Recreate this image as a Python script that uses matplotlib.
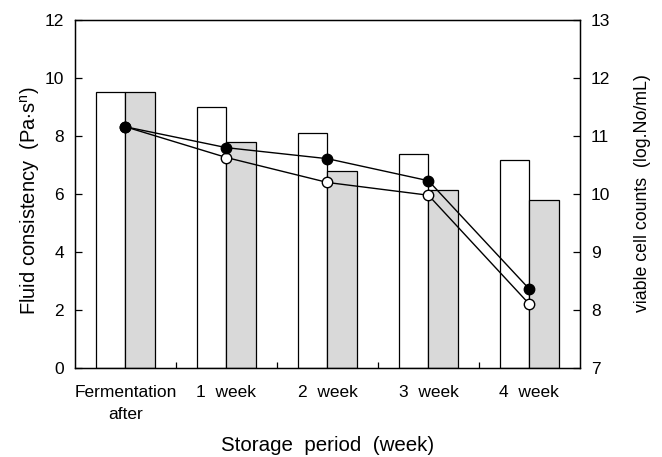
import matplotlib
matplotlib.use("Agg")
import matplotlib.pyplot as plt
import numpy as np

plt.rcParams['font.family'] = ['Liberation Sans', 'DejaVu Sans']
plt.rcParams['mathtext.fontset'] = 'custom'
plt.rcParams['mathtext.rm'] = 'Liberation Sans'

categories = ["Fermentation\nafter", "1  week", "2  week", "3  week", "4  week"]
consistency_a = [9.53, 9.01, 8.09, 7.38, 7.17]
consistency_b = [9.53, 7.80, 6.80, 6.13, 5.79]
counts_filled = [11.16, 10.80, 10.61, 10.23, 8.36]
counts_open = [11.16, 10.63, 10.20, 9.98, 8.10]

fig = plt.figure(figsize=(6.62, 4.57), dpi=100)
ax = fig.add_axes([0.1133, 0.1947, 0.7627, 0.7613])
x = np.arange(len(categories))
w = 0.29

ax.bar(x - w / 2, consistency_a, width=w, facecolor='white', edgecolor='black', linewidth=0.9, zorder=2)
ax.bar(x + w / 2, consistency_b, width=w, facecolor='#d9d9d9', edgecolor='black', linewidth=0.9, zorder=2)

ax.set_xlim(-0.5, 4.5)
ax.set_ylim(0, 12)
ax.set_yticks(np.arange(0, 13, 2))
ax.set_xticks(x)
ax.set_xticklabels(categories, fontsize=12.5, linespacing=1.58)
ax.set_xticks(np.arange(0.5, 4.0, 1.0), minor=True)
ax.tick_params(axis='x', which='major', length=0, pad=12)
ax.tick_params(axis='x', which='minor', direction='in', length=4, width=0.9)
ax.tick_params(axis='y', direction='in', length=5, width=0.9, labelsize=12.5, pad=8)
ax.set_ylabel(r'Fluid consistency  (Pa$\cdot$s$^{\mathregular{n}}$)', fontsize=14.5)
ax.yaxis.set_label_coords(-0.066, 0.481)
ax.set_xlabel('Storage  period  (week)', fontsize=14.8, labelpad=10)
for s in ax.spines.values():
    s.set_linewidth(1.0)

ax2 = ax.twinx()
ax2.set_ylim(7, 13)
ax2.set_yticks(np.arange(7, 14, 1))
ax2.tick_params(axis='y', direction='in', length=5, width=0.9, labelsize=12.5, pad=8)
ax2.plot(x, counts_open, color='black', linewidth=1.0, marker='o', markersize=7.5,
         markerfacecolor='white', markeredgecolor='black', markeredgewidth=1.0, zorder=3)
ax2.plot(x, counts_filled, color='black', linewidth=1.0, marker='o', markersize=7.5,
         markerfacecolor='black', markeredgecolor='black', zorder=4)
ax2.set_ylabel('viable cell counts  (log.No/mL)', fontsize=12.8)
ax2.yaxis.set_label_coords(1.108, 0.504)

fig.savefig('out.png', dpi=100)
